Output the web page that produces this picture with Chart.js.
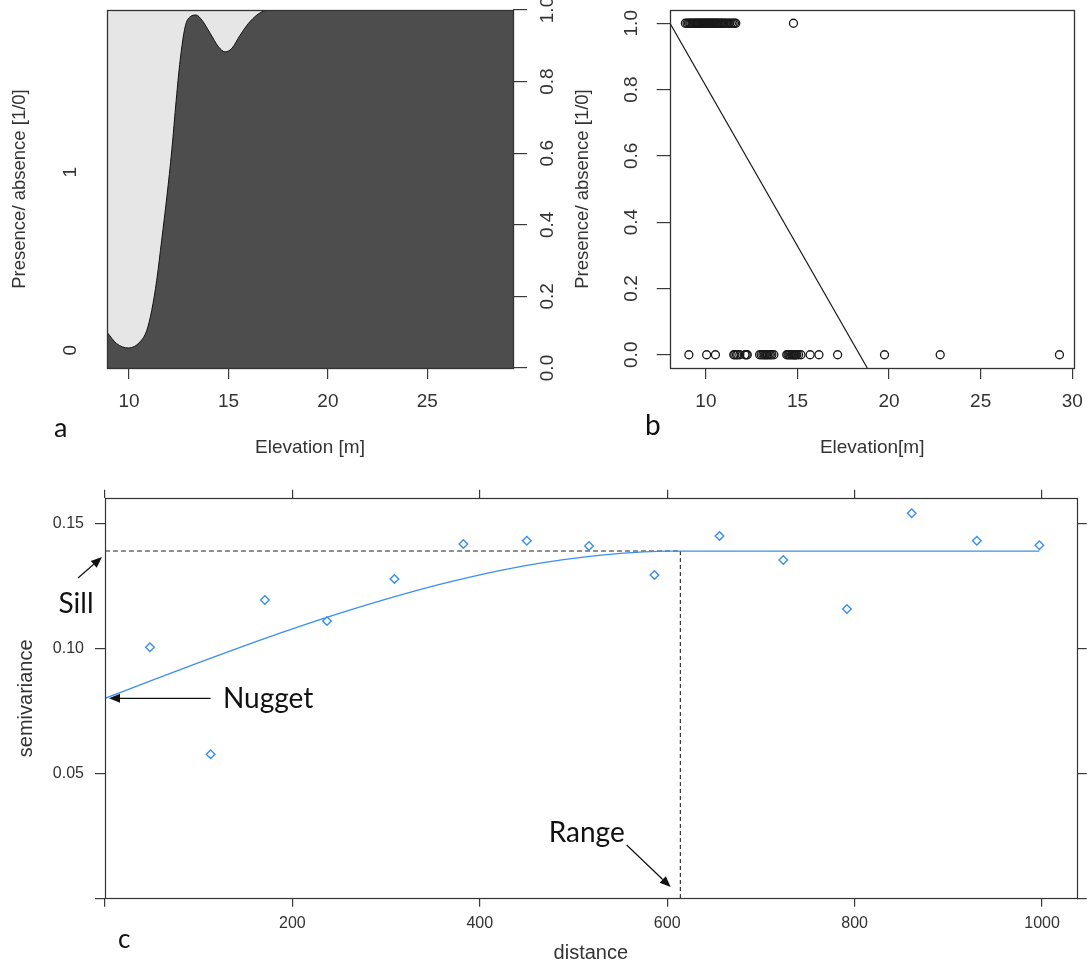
<!DOCTYPE html>
<html>
<head>
<meta charset="utf-8">
<script src="https://cdn.jsdelivr.net/npm/chart.js@4.4.1/dist/chart.umd.min.js"></script>
<style>
  html, body { margin: 0; padding: 0; background: #ffffff; }
  body { width: 1092px; height: 967px; position: relative; overflow: hidden; }
  canvas { position: absolute; }
  #cdA { left: 0; top: 0; }
  #scB { left: 560px; top: 0; }
  #vgC { left: 0; top: 480px; }
</style>
</head>
<body>
<canvas id="cdA" width="590" height="470"></canvas>
<canvas id="scB" width="532" height="470"></canvas>
<canvas id="vgC" width="1092" height="487"></canvas>
<script>
// ---- (a) conditional density: share of absences along elevation ----
const cdElevation = [8.89, 9.38, 9.97, 10.55, 10.89, 11.14, 11.39, 11.64, 11.90, 12.15, 12.37, 12.57, 12.82,
                     13.07, 13.37, 13.66, 14.08, 14.50, 14.83, 15.17, 15.59, 16.01, 16.43, 16.76, 17.10, 29.31];
const cdAbsence   = [0.100, 0.068, 0.056, 0.073, 0.105, 0.161, 0.245, 0.357, 0.478, 0.609, 0.748, 0.860, 0.953,
                     0.981, 0.986, 0.972, 0.935, 0.897, 0.883, 0.893, 0.930, 0.963, 0.986, 0.997, 1.000, 1.000];
const cdTicksX = [10, 15, 20, 25];
const cdTicksY = [0, 0.2, 0.4, 0.6, 0.8, 1.0];
const cdLevelPos = [0.05, 0.547];
const cdLevelLabels = ['0', '1'];

// ---- (b) presence / absence observations with a straight-line fit ----
const presenceElev = [8.88, 8.97, 9.05, 9.12, 9.18, 9.25, 9.31, 9.38, 9.44, 9.50, 9.55, 9.61, 9.67, 9.72, 9.78,
                      9.83, 9.89, 9.94, 10.00, 10.05, 10.10, 10.16, 10.21, 10.27, 10.32, 10.38, 10.43, 10.49,
                      10.55, 10.60, 10.66, 10.72, 10.79, 10.85, 10.92, 10.99, 11.06, 11.14, 11.22, 11.30, 11.39,
                      11.48, 11.56, 11.63, 14.78];
const absenceElev  = [9.07, 10.04, 10.52, 11.52, 11.58, 11.67, 11.74, 11.85, 12.13, 12.20, 12.26,
                      12.93, 13.02, 13.11, 13.18, 13.24, 13.31, 13.37, 13.45, 13.52, 13.60, 13.71,
                      14.41, 14.48, 14.54, 14.60, 14.67, 14.72, 14.78, 14.82, 14.86, 14.91, 14.96, 15.06, 15.19,
                      15.69, 16.17, 17.19, 19.75, 22.79, 29.30];
const fitElev  = [8.04, 18.81];
const fitValue = [1.0, -0.04];
const scTicksX = [10, 15, 20, 25, 30];
const scTicksY = [0, 0.2, 0.4, 0.6, 0.8, 1.0];

// ---- (c) empirical semivariogram with fitted spherical model ----
const lagDist = [48.0, 112.7, 170.6, 236.9, 308.9, 382.5, 450.2, 516.5, 586.4, 655.8, 723.9, 791.8, 860.9, 930.4, 997.2];
const semivar = [0.1004, 0.0576, 0.1193, 0.1109, 0.1277, 0.1417, 0.1430, 0.1409, 0.1293, 0.1449, 0.1353, 0.1157, 0.1540, 0.1430, 0.1412];
const modelDist  = [0, 50, 100, 150, 200, 250, 300, 350, 400, 425, 450, 475, 500, 525, 550, 575, 600, 614, 997];
const modelGamma = [0.0800, 0.0872, 0.0943, 0.1012, 0.1078, 0.1140, 0.1197, 0.1249, 0.1294, 0.1314, 0.1332,
                    0.1347, 0.1360, 0.1371, 0.1380, 0.1386, 0.1389, 0.1389, 0.1389];
const nugget = 0.08;
const sill = 0.1389;
const rangeDist = 614;
const vgTicksX = [0, 200, 400, 600, 800, 1000];
const vgTicksXLabels = ['', '200', '400', '600', '800', '1000'];
const vgTicksY = [0, 0.05, 0.10, 0.15];
const vgTicksYLabels = ['', '0.05', '0.10', '0.15'];

// annotation text and arrows in (distance, semivariance) units
const noteText  = ['Sill', 'Nugget', 'Range'];
const noteX     = [-30.9, 125.9, 473.5];
const noteY     = [0.1141, 0.0762, 0.0226];
const noteAlign = ['center', 'left', 'left'];
const arrowFrom = [[-28.8, 0.1281], [112.7, nugget], [556.7, 0.0213]];
const arrowTo   = [[-3.2, 0.1365], [4.3, nugget], [603.7, 0.0045]];

// ---- shared helpers ----
const rFont = "'Liberation Sans', Arial, sans-serif";
const noteFont = "Lato, 'Open Sans', sans-serif";
const ink = '#333333';

function boxSize(px) {
  return s => {
    if (s.isHorizontal()) s.height = px; else s.width = px;
    s.paddingLeft = s.paddingRight = s.paddingTop = s.paddingBottom = 0;
  };
}
function setTicks(vals) {
  return s => { s.ticks = vals.map(v => ({ value: v })); };
}
function tickGrid(len, show = true) {
  return { display: show, drawOnChartArea: false, drawTicks: show, tickLength: len, color: '#3a3a3a', lineWidth: 1.2 };
}

const framePlugin = {
  id: 'frame',
  afterDraw(chart, args, opts) {
    const { ctx, chartArea: a } = chart;
    ctx.save();
    ctx.strokeStyle = opts.color || '#333';
    ctx.lineWidth = opts.width || 1.2;
    ctx.strokeRect(Math.round(a.left) + 0.5, Math.round(a.top) + 0.5,
                   Math.round(a.right - a.left), Math.round(a.bottom - a.top));
    ctx.restore();
  }
};

const letterPlugin = {
  id: 'panelLetter',
  afterDraw(chart, args, opts) {
    if (!opts.text) return;
    const ctx = chart.ctx;
    ctx.save();
    ctx.fillStyle = '#111';
    ctx.font = opts.size + 'px ' + noteFont;
    ctx.textAlign = 'left';
    ctx.textBaseline = 'alphabetic';
    ctx.fillText(opts.text, opts.x, opts.y);
    ctx.restore();
  }
};

function drawArrow(ctx, x1, y1, x2, y2, head, half) {
  const ang = Math.atan2(y2 - y1, x2 - x1);
  const bx = x2 - head * Math.cos(ang), by = y2 - head * Math.sin(ang);
  ctx.beginPath();
  ctx.moveTo(x1, y1);
  ctx.lineTo(bx, by);
  ctx.stroke();
  ctx.beginPath();
  ctx.moveTo(x2, y2);
  ctx.lineTo(bx + half * Math.sin(ang), by - half * Math.cos(ang));
  ctx.lineTo(bx - half * Math.sin(ang), by + half * Math.cos(ang));
  ctx.closePath();
  ctx.fill();
}

const notePlugin = {
  id: 'variogramNotes',
  afterDraw(chart) {
    const { ctx } = chart;
    const sx = chart.scales.x, sy = chart.scales.y;
    ctx.save();
    ctx.strokeStyle = '#111';
    ctx.fillStyle = '#111';
    ctx.lineWidth = 1.2;
    for (let i = 0; i < arrowFrom.length; i++) {
      drawArrow(ctx,
        sx.getPixelForValue(arrowFrom[i][0]), sy.getPixelForValue(arrowFrom[i][1]),
        sx.getPixelForValue(arrowTo[i][0]), sy.getPixelForValue(arrowTo[i][1]), 11, 4.5);
    }
    ctx.font = '28px ' + noteFont;
    ctx.textBaseline = 'alphabetic';
    for (let i = 0; i < noteText.length; i++) {
      ctx.textAlign = noteAlign[i];
      ctx.fillText(noteText[i], sx.getPixelForValue(noteX[i]), sy.getPixelForValue(noteY[i]));
    }
    ctx.restore();
  }
};

const baseOptions = {
  responsive: false,
  animation: false,
  events: []
};

// ---- (a) ----
const cdPoints = cdElevation.map((x, i) => ({ x, y: cdAbsence[i] }));
new Chart(document.getElementById('cdA'), {
  type: 'scatter',
  data: {
    datasets: [
      { data: cdPoints, showLine: true, fill: 'origin', backgroundColor: '#4d4d4d', borderColor: '#111',
        borderWidth: 1, pointRadius: 0, cubicInterpolationMode: 'monotone', yAxisID: 'y' },
      { data: cdPoints, showLine: true, fill: 'end', backgroundColor: '#e6e6e6', borderColor: 'rgba(0,0,0,0)',
        borderWidth: 0, pointRadius: 0, cubicInterpolationMode: 'monotone', yAxisID: 'y' }
    ]
  },
  options: {
    ...baseOptions,
    layout: { padding: { left: 0, top: 10, right: 0, bottom: 0 } },
    plugins: {
      legend: { display: false }, tooltip: { enabled: false },
      frame: { color: '#333', width: 1.3 },
      panelLetter: { text: 'a', x: 54, y: 437, size: 27 }
    },
    scales: {
      x: {
        type: 'linear', position: 'bottom', min: 8.89, max: 29.31,
        afterBuildTicks: setTicks(cdTicksX), afterFit: boxSize(102),
        grid: tickGrid(11), border: { display: false },
        ticks: { font: { family: rFont, size: 19 }, color: ink, padding: 11.6, autoSkip: false,
                 maxRotation: 0, callback: v => String(v) },
        title: { display: true, text: 'Elevation [m]', font: { family: rFont, size: 19 }, color: ink,
                 padding: { top: 0, bottom: 10.6 } }
      },
      y: {
        type: 'linear', position: 'right', min: 0, max: 1,
        afterBuildTicks: setTicks(cdTicksY), afterFit: boxSize(77),
        grid: tickGrid(14), border: { display: false },
        ticks: { font: { family: rFont, size: 19 }, color: ink, padding: 7.8, autoSkip: false,
                 minRotation: 90, maxRotation: 90, crossAlign: 'center', callback: v => v.toFixed(1) }
      },
      yl: {
        type: 'linear', position: 'left', min: 0, max: 1,
        afterBuildTicks: setTicks(cdLevelPos), afterFit: boxSize(107),
        grid: tickGrid(0, false), border: { display: false },
        ticks: { font: { family: rFont, size: 19 }, color: ink, padding: 30.7, autoSkip: false,
                 minRotation: 90, maxRotation: 90, crossAlign: 'center', callback: (v, i) => cdLevelLabels[i] },
        title: { display: true, text: 'Presence/ absence [1/0]', font: { family: rFont, size: 18.5 }, color: ink,
                 padding: { top: 8.5, bottom: 0 } }
      }
    }
  },
  plugins: [framePlugin, letterPlugin]
});

// ---- (b) ----
const openCircle = { pointStyle: 'circle', pointRadius: 4, borderColor: '#1a1a1a', pointBorderColor: '#1a1a1a',
                     backgroundColor: 'rgba(0,0,0,0)', pointBackgroundColor: 'rgba(0,0,0,0)',
                     borderWidth: 1.3, pointBorderWidth: 1.3, showLine: false };
new Chart(document.getElementById('scB'), {
  type: 'scatter',
  data: {
    datasets: [
      { ...openCircle, data: presenceElev.map(x => ({ x, y: 1 })) },
      { ...openCircle, data: absenceElev.map(x => ({ x, y: 0 })) },
      { data: fitElev.map((x, i) => ({ x, y: fitValue[i] })), showLine: true, borderColor: '#1a1a1a',
        borderWidth: 1.2, pointRadius: 0, fill: false }
    ]
  },
  options: {
    ...baseOptions,
    layout: { padding: { left: 0, top: 10, right: 17.7, bottom: 0 } },
    plugins: {
      legend: { display: false }, tooltip: { enabled: false },
      frame: { color: '#333', width: 1.3 },
      panelLetter: { text: 'b', x: 85, y: 435, size: 28 }
    },
    scales: {
      x: {
        type: 'linear', position: 'bottom', min: 8.04, max: 30.11,
        afterBuildTicks: setTicks(scTicksX), afterFit: boxSize(102),
        grid: tickGrid(11), border: { display: false },
        ticks: { font: { family: rFont, size: 19 }, color: ink, padding: 11.6, autoSkip: false,
                 maxRotation: 0, callback: v => String(v) },
        title: { display: true, text: 'Elevation[m]', font: { family: rFont, size: 19 }, color: ink,
                 padding: { top: 0, bottom: 10.6 } }
      },
      y: {
        type: 'linear', position: 'left', min: -0.04, max: 1.04,
        afterBuildTicks: setTicks(scTicksY), afterFit: boxSize(110),
        grid: tickGrid(13.3), border: { display: false },
        ticks: { font: { family: rFont, size: 19 }, color: ink, padding: 11.8, autoSkip: false,
                 minRotation: 90, maxRotation: 90, crossAlign: 'center', callback: v => v.toFixed(1) },
        title: { display: true, text: 'Presence/ absence [1/0]', font: { family: rFont, size: 18.5 }, color: ink,
                 padding: { top: 12.2, bottom: 0 } }
      }
    }
  },
  plugins: [framePlugin, letterPlugin]
});

// ---- (c) ----
const vgBlue = '#3a8ff0';
new Chart(document.getElementById('vgC'), {
  type: 'scatter',
  data: {
    datasets: [
      { data: lagDist.map((x, i) => ({ x, y: semivar[i] })), pointStyle: 'rectRot', pointRadius: 4.3,
        borderColor: vgBlue, pointBorderColor: vgBlue, backgroundColor: 'rgba(0,0,0,0)',
        pointBackgroundColor: 'rgba(0,0,0,0)', borderWidth: 1.4, pointBorderWidth: 1.4, showLine: false },
      { data: modelDist.map((x, i) => ({ x, y: modelGamma[i] })), showLine: true, borderColor: vgBlue,
        borderWidth: 1.3, pointRadius: 0, cubicInterpolationMode: 'monotone', fill: false },
      { data: [{ x: 0, y: sill }, { x: rangeDist, y: sill }], showLine: true, borderColor: '#222',
        borderWidth: 1.1, borderDash: [5, 3], pointRadius: 0, fill: false },
      { data: [{ x: rangeDist, y: sill }, { x: rangeDist, y: 0 }], showLine: true, borderColor: '#222',
        borderWidth: 1.1, borderDash: [4, 3], pointRadius: 0, fill: false }
    ]
  },
  options: {
    ...baseOptions,
    layout: { padding: 0 },
    plugins: {
      legend: { display: false }, tooltip: { enabled: false },
      frame: { color: '#333', width: 1.2 },
      panelLetter: { text: 'c', x: 118, y: 468, size: 26 }
    },
    scales: {
      x: {
        type: 'linear', position: 'bottom', min: 0, max: 1037,
        afterBuildTicks: setTicks(vgTicksX), afterFit: boxSize(68.7),
        grid: tickGrid(8.5), border: { display: false },
        ticks: { font: { family: rFont, size: 16 }, color: ink, padding: 6.9, autoSkip: false,
                 maxRotation: 0, callback: (v, i) => vgTicksXLabels[i] },
        title: { display: true, text: 'distance', font: { family: rFont, size: 20 }, color: ink,
                 padding: { top: 0, bottom: 2 } }
      },
      xTop: {
        type: 'linear', axis: 'x', position: 'top', min: 0, max: 1037,
        afterBuildTicks: setTicks(vgTicksX), afterFit: boxSize(18.3),
        grid: tickGrid(8.5), border: { display: false },
        ticks: { autoSkip: false, maxRotation: 0, callback: () => '' }
      },
      y: {
        type: 'linear', position: 'left', min: 0, max: 0.16,
        afterBuildTicks: setTicks(vgTicksY), afterFit: boxSize(105),
        grid: tickGrid(10), border: { display: false },
        ticks: { font: { family: rFont, size: 16 }, color: ink, padding: 11, autoSkip: false,
                 callback: (v, i) => vgTicksYLabels[i] },
        title: { display: true, text: 'semivariance', font: { family: rFont, size: 20 }, color: ink,
                 padding: { top: 14.8, bottom: 0 } }
      },
      yRight: {
        type: 'linear', axis: 'y', position: 'right', min: 0, max: 0.16,
        afterBuildTicks: setTicks(vgTicksY), afterFit: boxSize(15.3),
        grid: tickGrid(10), border: { display: false },
        ticks: { autoSkip: false, callback: () => '' }
      }
    }
  },
  plugins: [framePlugin, letterPlugin, notePlugin]
});
</script>
</body>
</html>
